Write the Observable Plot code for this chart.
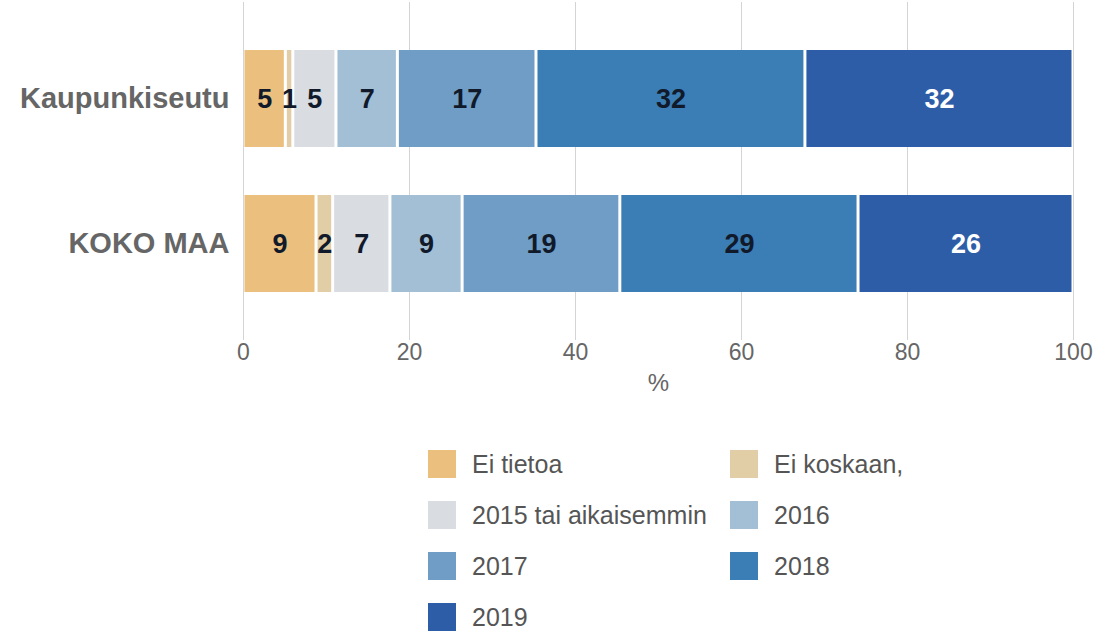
<!DOCTYPE html>
<html>
<head>
<meta charset="utf-8">
<script src="https://cdn.jsdelivr.net/npm/d3@7"></script>
<script src="https://cdn.jsdelivr.net/npm/@observablehq/plot@0.6"></script>
<style>
  html, body { margin: 0; padding: 0; background: #fff; }
  body { width: 1098px; height: 632px; overflow: hidden; font-family: "Liberation Sans", Arial, sans-serif; }
  #chart svg { display: block; font-family: "Liberation Sans", Arial, sans-serif; }
  #chart g[aria-label="y-axis tick label"] text { font-weight: bold; }
  #chart g[aria-label="x-axis label"] text { font-size: 24px; }
  #legend { display: grid; grid-template-columns: 302px 300px; row-gap: 23px; margin-left: 428px; margin-top: 50px; }
  .item { display: flex; align-items: center; height: 28px; font-size: 25px; color: #555; white-space: nowrap; }
  .sw { width: 28px; height: 28px; margin-right: 16px; flex: none; }
</style>
</head>
<body>
<div id="chart"></div>
<div id="legend"></div>
<script>
const categories = ["Kaupunkiseutu", "KOKO MAA"];
const series = ["Ei tietoa", "Ei koskaan,", "2015 tai aikaisemmin", "2016", "2017", "2018", "2019"];
const kaupunkiseutu = [5.1, 0.9, 5.2, 7.4, 16.7, 32.4, 32.3];
const kokoMaa = [8.8, 2.0, 6.9, 8.7, 19.0, 28.7, 25.9];
const colors = ["#ebc07f", "#e1cda6", "#d9dce0", "#a3bfd6", "#6f9dc5", "#3b7db5", "#2e5da8"];
const xTicks = [0, 20, 40, 60, 80, 100];

const rows = [];
[kaupunkiseutu, kokoMaa].forEach((vals, i) => {
  vals.forEach((v, j) => rows.push({category: categories[i], series: series[j], value: v}));
});

const chart = Plot.plot({
  width: 1098,
  height: 400,
  marginLeft: 243,
  marginRight: 25,
  marginTop: 2,
  marginBottom: 60,
  x: {domain: [0, 100]},
  y: {domain: categories, padding: 0.33},
  color: {domain: series, range: colors},
  marks: [
    Plot.gridX(xTicks, {stroke: "#d4d4d4", strokeOpacity: 1}),
    Plot.barX(rows, Plot.stackX({x: "value", y: "category", fill: "series", order: series, insetLeft: 1.5, insetRight: 1.5})),
    Plot.textX(rows, Plot.stackX({x: "value", y: "category", z: "series", order: series,
      text: d => String(Math.round(d.value)),
      fill: d => d.series === "2019" ? "#ffffff" : "#111a2a",
      fontSize: 27, fontWeight: "bold"})),
    Plot.axisX(xTicks, {tickSize: 0, tickPadding: 3, fontSize: 23, color: "#666", label: "%", labelAnchor: "center", labelArrow: "none", labelOffset: 50}),
    Plot.axisY({tickSize: 0, tickPadding: 14, fontSize: 29, color: "#666", label: null})
  ]
});
document.getElementById("chart").appendChild(chart);

const legend = document.getElementById("legend");
series.forEach((s, i) => {
  const item = document.createElement("div");
  item.className = "item";
  const sw = document.createElement("span");
  sw.className = "sw";
  sw.style.background = colors[i];
  const t = document.createElement("span");
  t.textContent = s;
  item.appendChild(sw);
  item.appendChild(t);
  legend.appendChild(item);
});
</script>
</body>
</html>
